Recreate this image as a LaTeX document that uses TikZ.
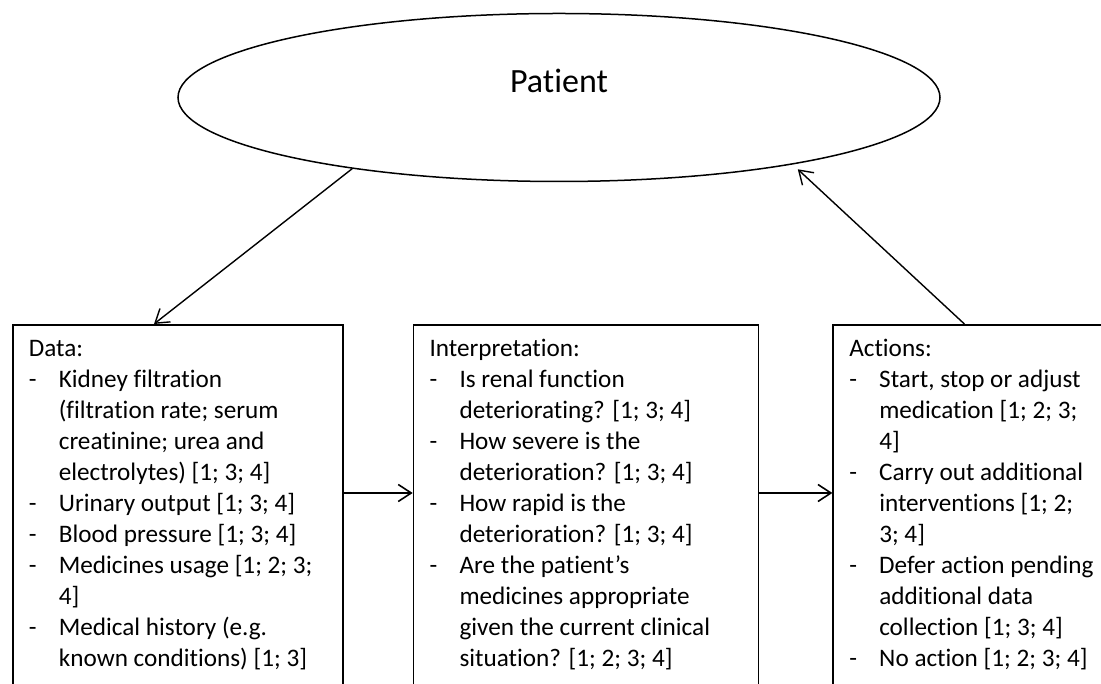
\documentclass[tikz,border=0pt]{standalone}
\usepackage{fontspec}
\setmainfont{Carlito}[Ligatures=NoCommon]
\usetikzlibrary{shapes.geometric, arrows.meta, positioning}

\newcommand{\dashitem}{\par\hangindent=30pt\hangafter=1\noindent\makebox[30pt][l]{-}}
\newcommand{\stagetext}[2]{\parbox[t][370pt][t]{#1}{\raggedright\strut #2}}

\begin{document}
\begin{tikzpicture}[x=1pt, y=1pt]
    \tikzstyle{stage} = [rectangle, draw, line width=1.7pt, anchor=north west,
                         inner xsep=16pt, inner ysep=10pt, font=\fontsize{25.2}{31}\selectfont]
    \tikzstyle{flow} = [-{Straight Barb[length=13pt, width=17pt]}, line width=1.6pt]

    \useasboundingbox (0,0) rectangle (1101,684);
    \clip (0,0) rectangle (1101,684);

    \node (patient) [ellipse, draw, line width=1.5pt, minimum width=762pt, minimum height=168pt,
                     text height=21pt, text depth=30pt, font=\fontsize{34}{40}\selectfont]
                     at (559,586.5) {Patient};

    \node (data) [stage] at (12,360) {\stagetext{298pt}{Data:
        \dashitem Kidney filtration\newline (filtration rate; serum\newline creatinine; urea and\newline electrolytes) [1; 3; 4]
        \dashitem Urinary output [1; 3; 4]
        \dashitem Blood pressure [1; 3; 4]
        \dashitem Medicines usage [1; 2; 3;\newline 4]
        \dashitem Medical history (e.g.\newline known conditions) [1; 3]}};
    \node (interp) [stage, right=69pt of data] {\stagetext{313pt}{Interpretation:
        \dashitem Is renal function\newline deteriorating? [1; 3; 4]
        \dashitem How severe is the\newline deterioration? [1; 3; 4]
        \dashitem How rapid is the\newline deterioration? [1; 3; 4]
        \dashitem Are the patient’s\newline medicines appropriate\newline given the current clinical\newline situation? [1; 2; 3; 4]}};
    \node (actions) [stage, right=73pt of interp] {\stagetext{290pt}{Actions:
        \dashitem Start, stop or adjust\newline medication [1; 2; 3;\newline 4]
        \dashitem Carry out additional\newline interventions [1; 2;\newline 3; 4]
        \dashitem Defer action pending\newline additional data\newline collection [1; 3; 4]
        \dashitem No action [1; 2; 3; 4]}};

    \draw [flow, line width=1.4pt] (patient.199) -- ([xshift=142pt]data.north west);
    \draw [flow, line width=1.4pt, shorten >=7pt] ([xshift=132pt]actions.north west) -- (patient.344);
    \draw [flow] ([yshift=-169pt]data.north east) -- ([yshift=-169pt]interp.north west);
    \draw [flow] ([yshift=-169pt]interp.north east) -- ([yshift=-169pt]actions.north west);
\end{tikzpicture}
\end{document}
